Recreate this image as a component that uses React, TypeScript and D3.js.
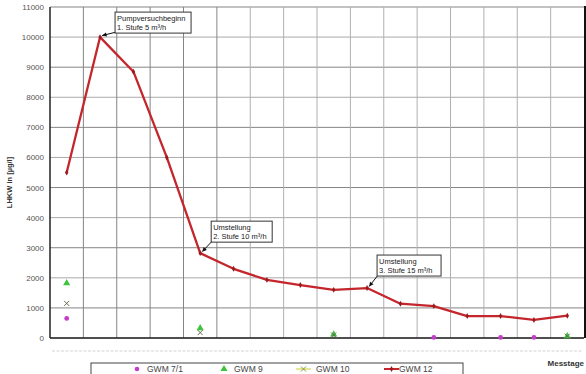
import React from "react";
import * as d3 from "d3";

// Messtage (measurement days) along the x axis
const days: string[] = ["1", "2", "3", "4", "5", "6", "7", "8", "9", "10", "11", "12", "13", "14", "15", "16"];
const yTicks: number[] = [0, 1000, 2000, 3000, 4000, 5000, 6000, 7000, 8000, 9000, 10000, 11000];

// LHKW concentrations in µg/l per well; null = not measured
const gwm71: (number | null)[] = [650, null, null, null, null, null, null, null, null, null, null, 20, null, 20, 20, null];
const gwm9: (number | null)[] = [1820, null, null, null, 330, null, null, null, 120, null, null, null, null, null, null, 60];
const gwm10: (number | null)[] = [1150, null, null, null, 180, null, null, null, 100, null, null, null, null, null, null, 60];
const gwm12: number[] = [5500, 10000, 8850, 6000, 2820, 2300, 1930, 1760, 1600, 1660, 1140, 1060, 730, 730, 600, 740];

// Annotated pumping stages: index of the day and text lines
const notes = [
  { day: 1, lines: ["Pumpversuchbeginn", "1. Stufe 5 m³/h"], dx: 15, dy: -25, w: 76 },
  { day: 4, lines: ["Umstellung", "2. Stufe 10 m³/h"], dx: 11, dy: -32, w: 61 },
  { day: 9, lines: ["Umstellung", "3. Stufe 15 m³/h"], dx: 10, dy: -33, w: 64 },
];

const W = 586;
const H = 374;
const left = 50;
const right = 584;
const top = 7;
const bottom = 338;

export default function App() {
  const x = d3.scaleBand<string>().domain(days).range([left, right]).padding(0);
  const cx = (i: number) => (x(days[i]) as number) + x.bandwidth() / 2;
  const y = d3.scaleLinear().domain([0, 11000]).range([bottom, top]);

  const line = d3
    .line<number>()
    .x((_, i) => cx(i))
    .y((d) => y(d));

  const font = "'Liberation Sans', Arial, sans-serif";
  const tri = d3.symbol().type(d3.symbolTriangle).size(22)() as string;
  const diamond = d3.symbol().type(d3.symbolDiamond).size(10)() as string;

  const xMark = (px: number, py: number, key: string, color: string) => (
    <path
      key={key}
      d={`M${px - 2.5},${py - 2.5}L${px + 2.5},${py + 2.5}M${px - 2.5},${py + 2.5}L${px + 2.5},${py - 2.5}`}
      stroke={color}
      strokeWidth={1}
    />
  );

  return (
    <svg
      width={W}
      height={H}
      style={{ position: "absolute", left: 0, top: 0, background: "#fff" }}
      fontFamily={font}
    >
      <rect x={0} y={0} width={W} height={H} fill="#fff" />

      {/* horizontal grid */}
      {yTicks.map((t) => (
        <line key={"h" + t} x1={left} x2={right} y1={y(t)} y2={y(t)} stroke={t % 2000 === 1000 ? "#858585" : "#aaaaaa"} strokeWidth={1} />
      ))}
      {/* vertical grid at category boundaries */}
      {days.slice(1).map((d, i) => (
        <line key={"v" + d} x1={x(d) as number} x2={x(d) as number} y1={top} y2={bottom} stroke={i < 5 ? "#858585" : "#b0b0b0"} strokeWidth={1} />
      ))}

      {/* axes and frame */}
      <line x1={left} x2={left} y1={top} y2={bottom} stroke="#222" strokeWidth={1.5} />
      <line x1={left} x2={right} y1={bottom} y2={bottom} stroke="#222" strokeWidth={1.5} />
      <line x1={right + 1} x2={right + 1} y1={top - 1} y2={bottom} stroke="#111" strokeWidth={2} />

      {/* y tick labels */}
      {yTicks.map((t) => (
        <text key={"yt" + t} x={44} y={y(t) + 3} fontSize={8} fill="#555" textAnchor="end">
          {t}
        </text>
      ))}

      {/* faint x category row */}
      <line x1={52} x2={582} y1={351} y2={351} stroke="#e2e2e2" strokeWidth={1.5} strokeDasharray="3 1.5" />

      <text transform={`translate(12,${(top + bottom) / 2 + 10}) rotate(-90)`} fontSize={7.5} fontWeight="bold" fill="#333" textAnchor="middle">
        LHKW in [µg/l]
      </text>
      <text x={584} y={366} fontSize={8} fontWeight="bold" fill="#333" textAnchor="end">
        Messtage
      </text>

      {/* GWM 12 line */}
      <path d={line(gwm12) as string} fill="none" stroke="#c4262c" strokeWidth={2.3} strokeLinejoin="round" />
      {gwm12.map((v, i) => (
        <path key={"m12" + i} d={diamond} transform={`translate(${cx(i)},${y(v)})`} fill="#9b1a1e" />
      ))}

      {/* GWM 7/1 */}
      {gwm71.map((v, i) =>
        v == null ? null : <circle key={"m71" + i} cx={cx(i)} cy={y(v)} r={2.4} fill="#c43cc8" />
      )}
      {/* GWM 9 */}
      {gwm9.map((v, i) =>
        v == null ? null : <path key={"m9" + i} d={tri} transform={`translate(${cx(i)},${y(v)})`} fill="#3cc43c" />
      )}
      {/* GWM 10 */}
      {gwm10.map((v, i) => (v == null ? null : xMark(cx(i), y(v), "m10" + i, "#666a55")))}

      {/* stage annotations */}
      {notes.map((n, k) => {
        const px = cx(n.day);
        const py = y(gwm12[n.day]);
        const bx = px + n.dx;
        const by = py + n.dy;
        const ax = px + 2;
        const ay = py - 1.5;
        const sx = bx + 1;
        const sy = by + 20;
        const ang = Math.atan2(ay - sy, ax - sx);
        const hl = 5;
        const h1x = ax - hl * Math.cos(ang - 0.45);
        const h1y = ay - hl * Math.sin(ang - 0.45);
        const h2x = ax - hl * Math.cos(ang + 0.45);
        const h2y = ay - hl * Math.sin(ang + 0.45);
        return (
          <g key={"n" + k}>
            <line x1={sx} y1={sy} x2={ax} y2={ay} stroke="#111" strokeWidth={1} />
            <path d={`M${ax},${ay}L${h1x},${h1y}L${h2x},${h2y}Z`} fill="#111" />
            <rect x={bx} y={by} width={n.w} height={21} fill="#fff" stroke="#333" strokeWidth={1} />
            {n.lines.map((t, j) => (
              <text key={j} x={bx + 2} y={by + 8.5 + j * 9} fontSize={7.5} fill="#222">
                {t}
              </text>
            ))}
          </g>
        );
      })}

      {/* legend */}
      <g>
        <rect x={91} y={363} width={372} height={20} fill="#fff" stroke="#444" strokeWidth={1} />
        <circle cx={137} cy={369} r={2.3} fill="#c43cc8" />
        <text x={147} y={372} fontSize={8.5} fill="#444">GWM 7/1</text>
        <path d={tri} transform="translate(224,369)" fill="#3cc43c" />
        <text x={234} y={372} fontSize={8.5} fill="#444">GWM 9</text>
        <line x1={296} x2={311} y1={369} y2={369} stroke="#dede70" strokeWidth={1.5} />
        {xMark(303.5, 369, "lx", "#7f9a4a")}
        <text x={316} y={372} fontSize={8.5} fill="#444">GWM 10</text>
        <line x1={384} x2={399} y1={369} y2={369} stroke="#c4262c" strokeWidth={2} />
        <path d={diamond} transform="translate(391.5,369)" fill="#9b1a1e" />
        <text x={399} y={372} fontSize={8.5} fill="#444">GWM 12</text>
      </g>
    </svg>
  );
}
